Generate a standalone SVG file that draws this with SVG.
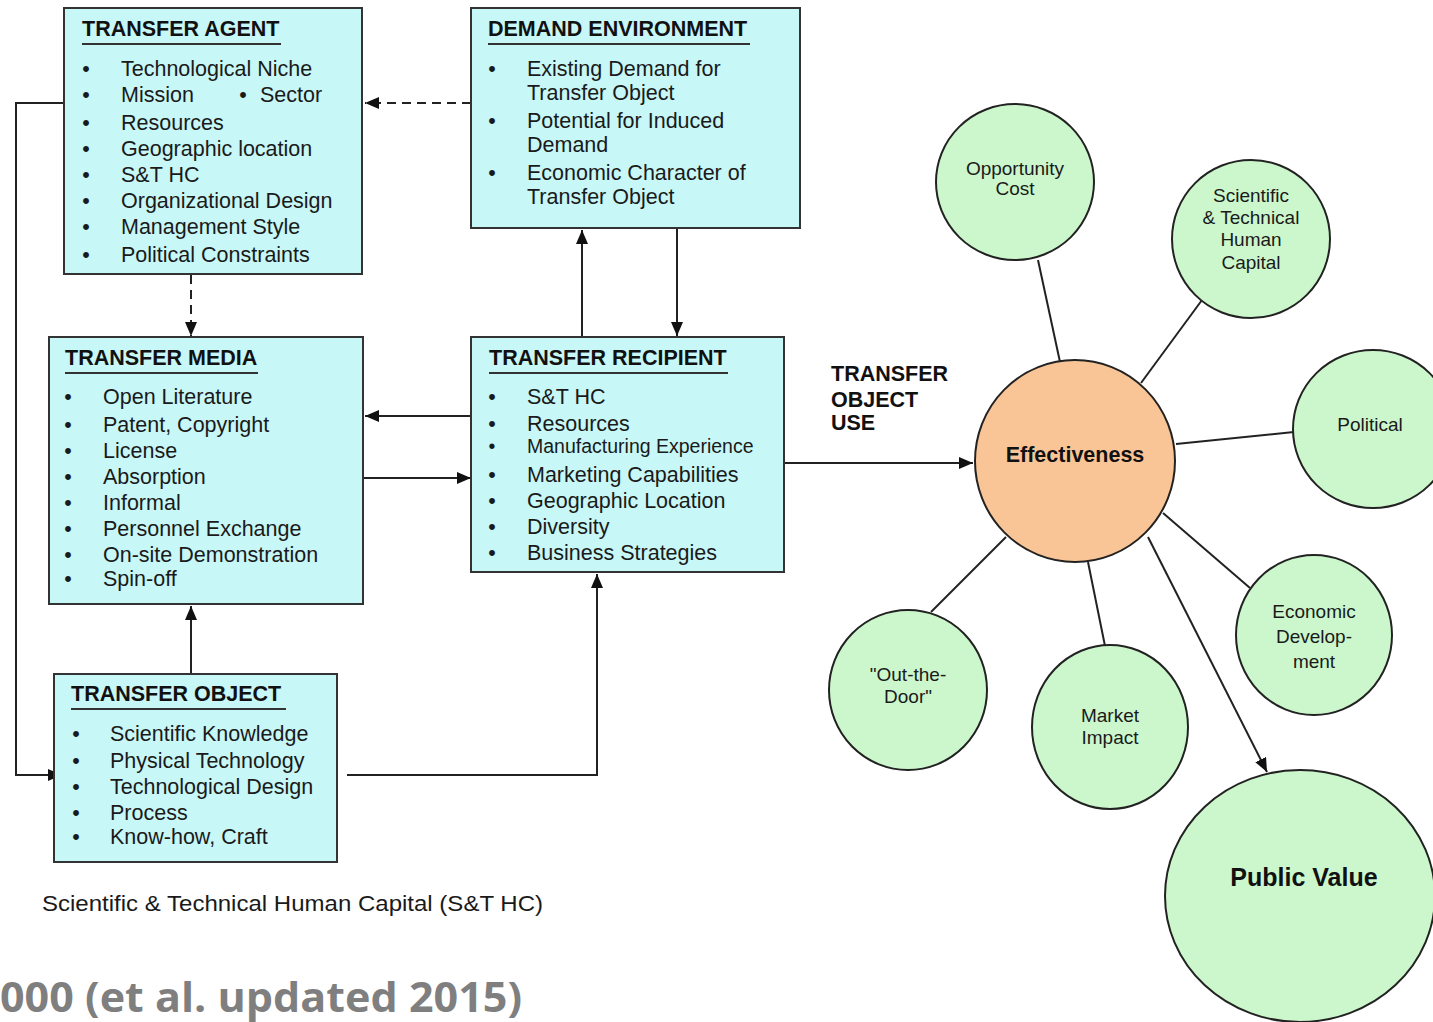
<svg xmlns="http://www.w3.org/2000/svg" width="1433" height="1022" viewBox="0 0 1433 1022">
<style>
.box{fill:#c8f7f7;stroke:#333;stroke-width:2}
.circ{fill:#ccf7cc;stroke:#222;stroke-width:2}
.eff{fill:#f9c596;stroke:#222;stroke-width:2}
.t{font-family:"Liberation Sans",Arial,sans-serif;font-size:21.5px;fill:#1a1a1a}
.sm{font-size:19.5px}
.h{font-family:"Liberation Sans",Arial,sans-serif;font-size:21.5px;font-weight:bold;fill:#111}
.ul{stroke:#333;stroke-width:2}
.c{font-family:"Liberation Sans",Arial,sans-serif;font-size:19px;fill:#1a1a1a;text-anchor:middle}
.b{text-anchor:middle}
.ln{stroke:#222;stroke-width:2;fill:none}
.dash{stroke-dasharray:9 6}
</style>
<defs>
<marker id="ah" viewBox="0 0 14 12" refX="14" refY="6" markerWidth="14" markerHeight="12" markerUnits="userSpaceOnUse" orient="auto">
<path d="M0,0 L14,6 L0,12 z" fill="#111"/>
</marker>
</defs>
<rect width="1433" height="1022" fill="#fff"/>

<g id="connectors">
<path class="ln dash" d="M471,103 H365" marker-end="url(#ah)"/>
<path class="ln dash" d="M191,275 V336" marker-end="url(#ah)"/>
<path class="ln" d="M64,103 H16 V775 H62" marker-end="url(#ah)"/>
<path class="ln" d="M582,337 V230" marker-end="url(#ah)"/>
<path class="ln" d="M677,228 V336" marker-end="url(#ah)"/>
<path class="ln" d="M471,416 H365" marker-end="url(#ah)"/>
<path class="ln" d="M363,478 H471" marker-end="url(#ah)"/>
<path class="ln" d="M191,683 V606" marker-end="url(#ah)"/>
<path class="ln" d="M347,775 H597 V574" marker-end="url(#ah)"/>
<path class="ln" d="M784,463 H973" marker-end="url(#ah)"/>
<path class="ln" d="M1038,260 L1060,362"/>
<path class="ln" d="M1202,300 L1141,383"/>
<path class="ln" d="M1176,444 L1294,432"/>
<path class="ln" d="M1163,513 L1250,588"/>
<path class="ln" d="M1088,562 L1105,646"/>
<path class="ln" d="M1006,537 L931,612"/>
<path class="ln" d="M1148,537 L1267,772" marker-end="url(#ah)"/>
</g>

<g id="transfer-agent">
<rect class="box" x="64" y="8" width="298" height="266"/>
<text class="h" x="82" y="36">TRANSFER AGENT</text>
<line class="ul" x1="82" y1="44" x2="281" y2="44"/>
<g class="t">
<text class="b" x="86" y="76">•</text><text x="121" y="76">Technological Niche</text>
<text class="b" x="86" y="102">•</text><text x="121" y="102">Mission</text>
<text class="b" x="243" y="102">•</text><text x="260" y="102">Sector</text>
<text class="b" x="86" y="130">•</text><text x="121" y="130">Resources</text>
<text class="b" x="86" y="156">•</text><text x="121" y="156">Geographic location</text>
<text class="b" x="86" y="182">•</text><text x="121" y="182">S&amp;T HC</text>
<text class="b" x="86" y="208">•</text><text x="121" y="208">Organizational Design</text>
<text class="b" x="86" y="234">•</text><text x="121" y="234">Management Style</text>
<text class="b" x="86" y="262">•</text><text x="121" y="262">Political Constraints</text>
</g>
</g>

<g id="demand-environment">
<rect class="box" x="471" y="8" width="329" height="220"/>
<text class="h" x="488" y="36">DEMAND ENVIRONMENT</text>
<line class="ul" x1="488" y1="44" x2="750" y2="44"/>
<g class="t">
<text class="b" x="492" y="76">•</text><text x="527" y="76">Existing Demand for</text>
<text x="527" y="100">Transfer Object</text>
<text class="b" x="492" y="128">•</text><text x="527" y="128">Potential for Induced</text>
<text x="527" y="152">Demand</text>
<text class="b" x="492" y="180">•</text><text x="527" y="180">Economic Character of</text>
<text x="527" y="204">Transfer Object</text>
</g>
</g>

<g id="transfer-media">
<rect class="box" x="49" y="337" width="314" height="267"/>
<text class="h" x="65" y="365">TRANSFER MEDIA</text>
<line class="ul" x1="65" y1="373" x2="258" y2="373"/>
<g class="t">
<text class="b" x="68" y="404">•</text><text x="103" y="404">Open Literature</text>
<text class="b" x="68" y="432">•</text><text x="103" y="432">Patent, Copyright</text>
<text class="b" x="68" y="458">•</text><text x="103" y="458">License</text>
<text class="b" x="68" y="484">•</text><text x="103" y="484">Absorption</text>
<text class="b" x="68" y="510">•</text><text x="103" y="510">Informal</text>
<text class="b" x="68" y="536">•</text><text x="103" y="536">Personnel Exchange</text>
<text class="b" x="68" y="562">•</text><text x="103" y="562">On-site Demonstration</text>
<text class="b" x="68" y="586">•</text><text x="103" y="586">Spin-off</text>
</g>
</g>

<g id="transfer-recipient">
<rect class="box" x="471" y="337" width="313" height="235"/>
<text class="h" x="489" y="365">TRANSFER RECIPIENT</text>
<line class="ul" x1="489" y1="373" x2="728" y2="373"/>
<g class="t">
<text class="b" x="492" y="404">•</text><text x="527" y="404">S&amp;T HC</text>
<text class="b" x="492" y="431">•</text><text x="527" y="431">Resources</text>
<text class="b sm" x="492" y="453">•</text><text class="sm" x="527" y="453">Manufacturing Experience</text>
<text class="b" x="492" y="482">•</text><text x="527" y="482">Marketing Capabilities</text>
<text class="b" x="492" y="508">•</text><text x="527" y="508">Geographic Location</text>
<text class="b" x="492" y="534">•</text><text x="527" y="534">Diversity</text>
<text class="b" x="492" y="560">•</text><text x="527" y="560">Business Strategies</text>
</g>
</g>

<g id="transfer-object">
<rect class="box" x="54" y="674" width="283" height="188"/>
<text class="h" x="71" y="701">TRANSFER OBJECT</text>
<line class="ul" x1="71" y1="709" x2="286" y2="709"/>
<g class="t">
<text class="b" x="76" y="741">•</text><text x="110" y="741">Scientific Knowledge</text>
<text class="b" x="76" y="768">•</text><text x="110" y="768">Physical Technology</text>
<text class="b" x="76" y="794">•</text><text x="110" y="794">Technological Design</text>
<text class="b" x="76" y="820">•</text><text x="110" y="820">Process</text>
<text class="b" x="76" y="844">•</text><text x="110" y="844">Know-how, Craft</text>
</g>
</g>

<g id="transfer-object-use-label">
<text class="h" x="831" y="381">TRANSFER</text>
<text class="h" x="831" y="407">OBJECT</text>
<text class="h" x="831" y="430">USE</text>
</g>

<g id="effectiveness">
<ellipse class="eff" cx="1075" cy="461" rx="100" ry="101"/>
<text class="h" x="1075" y="462" text-anchor="middle">Effectiveness</text>
</g>
<g id="opportunity-cost">
<ellipse class="circ" cx="1015" cy="182" rx="79" ry="78"/>
<text class="c" x="1015" y="175">Opportunity</text>
<text class="c" x="1015" y="195">Cost</text>
</g>
<g id="st-human-capital">
<ellipse class="circ" cx="1251" cy="239" rx="79" ry="79"/>
<text class="c" x="1251" y="202">Scientific</text>
<text class="c" x="1251" y="224">&amp; Technical</text>
<text class="c" x="1251" y="246">Human</text>
<text class="c" x="1251" y="269">Capital</text>
</g>
<g id="political">
<ellipse class="circ" cx="1373" cy="429" rx="80" ry="79"/>
<text class="c" x="1370" y="431">Political</text>
</g>
<g id="economic-development">
<ellipse class="circ" cx="1314" cy="635" rx="78" ry="80"/>
<text class="c" x="1314" y="618">Economic</text>
<text class="c" x="1314" y="643">Develop-</text>
<text class="c" x="1314" y="668">ment</text>
</g>
<g id="market-impact">
<ellipse class="circ" cx="1110" cy="727" rx="78" ry="82"/>
<text class="c" x="1110" y="722">Market</text>
<text class="c" x="1110" y="744">Impact</text>
</g>
<g id="out-the-door">
<ellipse class="circ" cx="908" cy="690" rx="79" ry="80"/>
<text class="c" x="908" y="681">"Out-the-</text>
<text class="c" x="908" y="703">Door"</text>
</g>
<g id="public-value">
<ellipse class="circ" cx="1300" cy="896" rx="135" ry="126"/>
<text class="h" x="1304" y="886" text-anchor="middle" style="font-size:25px">Public Value</text>
</g>

<text class="t" x="42" y="911" style="font-size:22px" textLength="501" lengthAdjust="spacingAndGlyphs">Scientific &amp; Technical Human Capital (S&amp;T HC)</text>
<text x="0" y="1012" textLength="522" lengthAdjust="spacingAndGlyphs" style="font-family:'Open Sans','Liberation Sans',sans-serif;font-weight:bold;font-size:41px;fill:#7f7f7f">000 (et al. updated 2015)</text>
</svg>
